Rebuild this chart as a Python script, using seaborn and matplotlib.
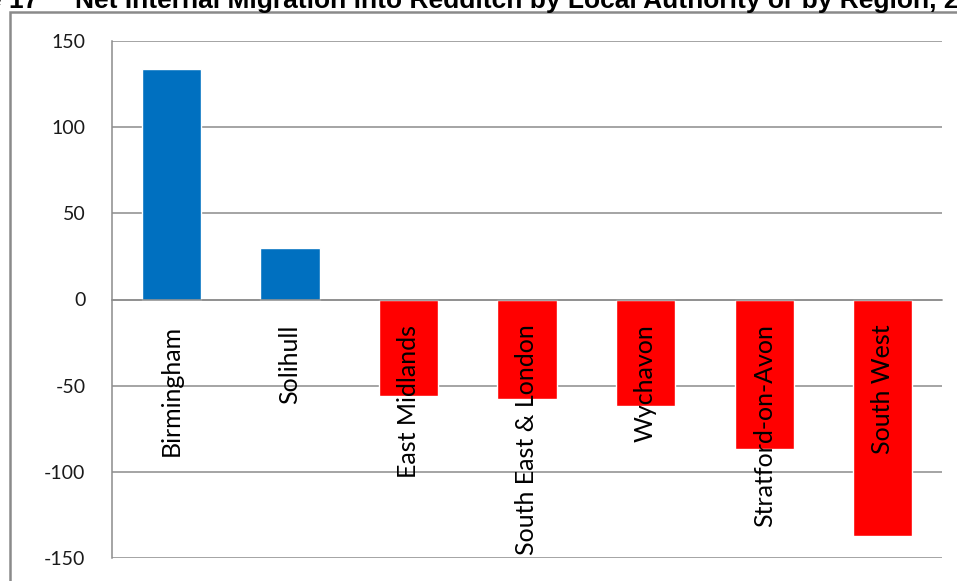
import matplotlib
matplotlib.use("Agg")
import matplotlib.pyplot as plt
import matplotlib.patches as mpatches
from matplotlib.ticker import FixedLocator
import seaborn as sns
import pandas as pd

# Net internal migration into Redditch, by origin
areas = ["Birmingham", "Solihull", "East Midlands", "South East & London",
         "Wychavon", "Stratford-on-Avon", "South West"]
net_migration = [134, 30, -56, -58, -62, -87, -137]
y_ticks = [150, 100, 50, 0, -50, -100, -150]

BLUE = "#0070C0"
RED = "#FF0000"
GRID = "#8c8c8c"
bar_colors = [BLUE if v > 0 else RED for v in net_migration]

df = pd.DataFrame({"area": areas, "net": net_migration})

sns.set_style("white")
plt.rcParams["font.family"] = ["Lato", "DejaVu Sans"]

W, H = 957, 581
fig = plt.figure(figsize=(W / 100, H / 100), dpi=100)
fig.patch.set_facecolor("white")

# plot area in pixel coordinates
left, right, top, bottom = 112, 942, 41, 558
ax = fig.add_axes([left / W, (H - bottom) / H, (right - left) / W, (bottom - top) / H])

sns.barplot(data=df, x="area", y="net", hue="area", palette=bar_colors,
            width=0.5, legend=False, ax=ax, saturation=1)

ax.set_ylim(-150, 150)
ax.set_xlim(-0.5, len(areas) - 0.5)
ax.set_yticks(y_ticks)
ax.set_yticklabels([str(t) for t in y_ticks], fontsize=14, color="#1a1a1a")
ax.yaxis.grid(True, color=GRID, linewidth=1.1)
ax.set_axisbelow(True)
ax.set_xlabel("")
ax.set_ylabel("")

for side in ["top", "right"]:
    ax.spines[side].set_visible(False)
ax.spines["left"].set_color(GRID)
ax.spines["left"].set_linewidth(1.1)
ax.spines["bottom"].set_position(("data", 0))
ax.spines["bottom"].set_color(GRID)
ax.spines["bottom"].set_linewidth(1.1)

ax.tick_params(axis="y", direction="out", length=7, width=1.1, color=GRID, pad=12)
# boundary ticks on the zero line
ax.set_xticks(range(len(areas)))
ax.set_xticklabels([])
ax.tick_params(axis="x", which="major", length=0)
ax.xaxis.set_minor_locator(FixedLocator([i + 0.5 for i in range(-1, len(areas))]))
ax.tick_params(axis="x", which="minor", direction="out", length=7, width=1.1, color=GRID)

# category labels drawn over the bars, hanging below the zero line
for i, name in enumerate(areas):
    ax.annotate(name, xy=(i, 0), xytext=(0, -25), textcoords="offset pixels",
                rotation=90, ha="center", va="top", fontsize=18,
                color="black", zorder=10, annotation_clip=False)

# chart border
fig.patches.append(mpatches.Rectangle((9.5 / W, -0.05), 1.3, (H - 12.5) / H + 0.05,
                                      transform=fig.transFigure, fill=False,
                                      edgecolor="#8a8a8a", linewidth=1.8, clip_on=False))

# heading above the chart
fig.text(75 / W, (H - 8) / H, "Net Internal Migration into Redditch by Local Authority or by Region, 2009",
         fontsize=19, fontweight="bold", family="Liberation Sans",
         ha="left", va="baseline", color="black")
fig.text(38 / W, (H - 8) / H, "Figure 17", fontsize=19, fontweight="bold",
         family="Liberation Sans", ha="right", va="baseline", color="black")

fig.savefig("out.png", dpi=100, facecolor="white")
